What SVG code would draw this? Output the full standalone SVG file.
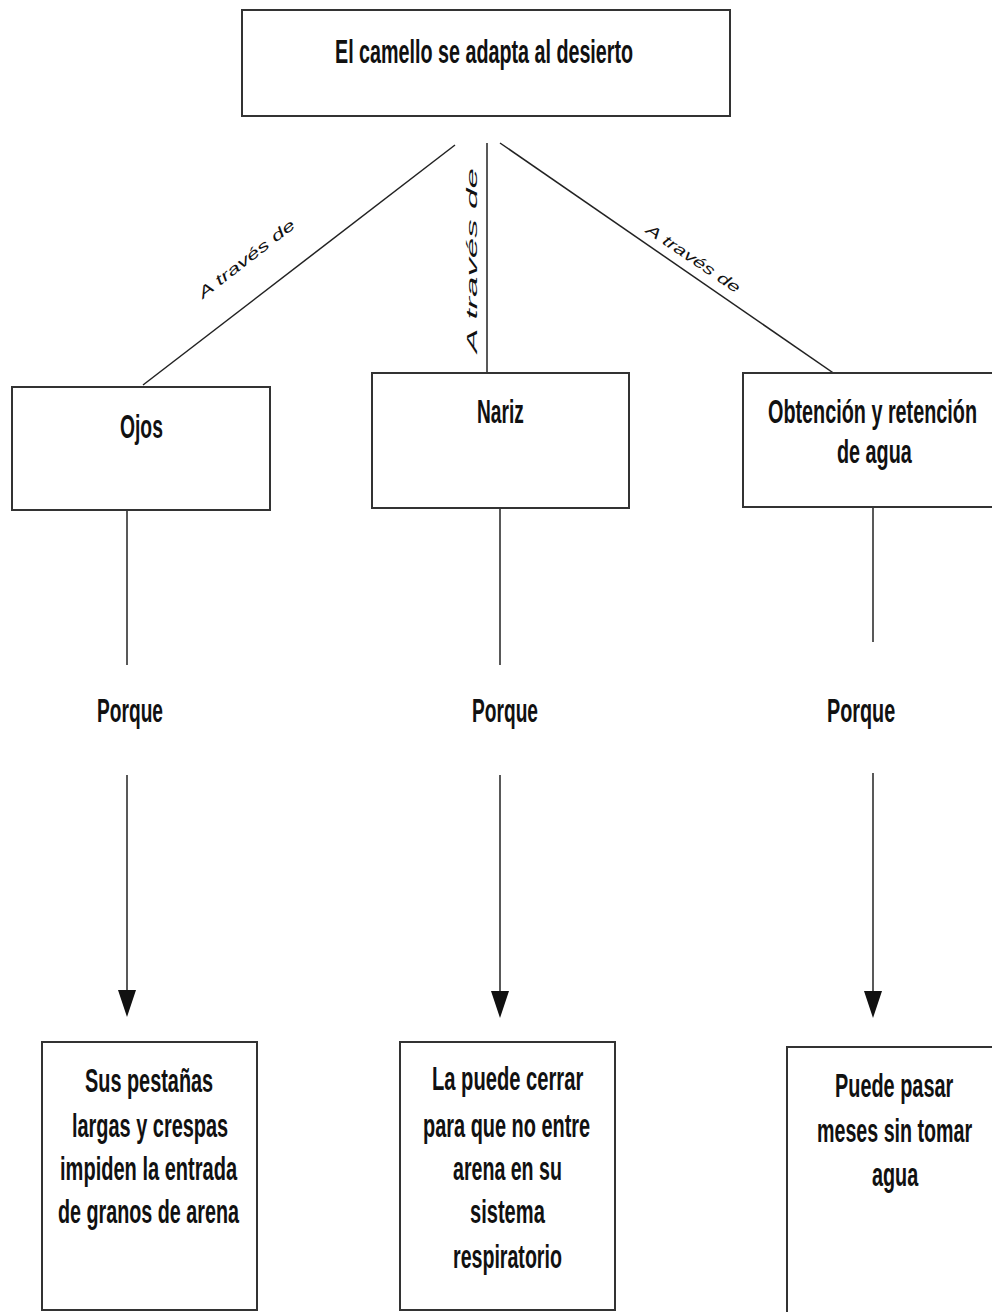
<svg xmlns="http://www.w3.org/2000/svg" width="992" height="1312" viewBox="0 0 992 1312">
<style>
.box{fill:#fff;stroke:#333;stroke-width:2}
.ln{stroke:#222;stroke-width:1.5;fill:none}
.t{font-family:"Liberation Sans",Arial,sans-serif;font-weight:bold;font-size:34px;fill:#111}
.lab{font-family:"Liberation Sans",Arial,sans-serif;font-style:italic;font-size:15px;fill:#111}
.ah{fill:#111}
</style>
<rect width="992" height="1312" fill="#fff"/>
<g id="connectors">
<line class="ln" x1="455" y1="145" x2="143" y2="385"/>
<line class="ln" x1="487" y1="143" x2="487" y2="383"/>
<line class="ln" x1="500" y1="143" x2="858" y2="390"/>
<text class="lab" transform="translate(203,299) rotate(-37.8)" x="0" y="0" textLength="118" lengthAdjust="spacingAndGlyphs">A través de</text>
<text class="lab" transform="translate(477,353) rotate(-90)" x="0" y="0" textLength="185" lengthAdjust="spacingAndGlyphs">A través de</text>
<text class="lab" transform="translate(645,232) rotate(34)" x="0" y="0" textLength="110" lengthAdjust="spacingAndGlyphs">A través de</text>
<line class="ln" x1="127" y1="510" x2="127" y2="665"/>
<line class="ln" x1="500" y1="508" x2="500" y2="665"/>
<line class="ln" x1="873" y1="507" x2="873" y2="642"/>
<line class="ln" x1="127" y1="775" x2="127" y2="995"/>
<line class="ln" x1="500" y1="775" x2="500" y2="995"/>
<line class="ln" x1="873" y1="773" x2="873" y2="995"/>
<polygon class="ah" points="118,990 136,990 127,1017"/>
<polygon class="ah" points="491,991 509,991 500,1018"/>
<polygon class="ah" points="864,991 882,991 873,1018"/>
<text class="t" transform="translate(97,722) scale(0.55,1)" textLength="120" lengthAdjust="spacingAndGlyphs">Porque</text>
<text class="t" transform="translate(472,722) scale(0.55,1)" textLength="120" lengthAdjust="spacingAndGlyphs">Porque</text>
<text class="t" transform="translate(827,722) scale(0.55,1)" textLength="124" lengthAdjust="spacingAndGlyphs">Porque</text>
</g>
<g id="root">
<rect class="box" x="242" y="10" width="488" height="106"/>
<text class="t" transform="translate(335,63) scale(0.55,1)" textLength="542" lengthAdjust="spacingAndGlyphs">El camello se adapta al desierto</text>
</g>
<g id="ojos">
<rect class="box" x="12" y="387" width="258" height="123"/>
<text class="t" transform="translate(120,438) scale(0.55,1)" textLength="78" lengthAdjust="spacingAndGlyphs">Ojos</text>
</g>
<g id="nariz">
<rect class="box" x="372" y="373" width="257" height="135"/>
<text class="t" transform="translate(477,423) scale(0.55,1)" textLength="85" lengthAdjust="spacingAndGlyphs">Nariz</text>
</g>
<g id="agua">
<rect class="box" x="743" y="373" width="260" height="134"/>
<text class="t" transform="translate(768,423) scale(0.55,1)" textLength="380" lengthAdjust="spacingAndGlyphs">Obtención y retención</text>
<text class="t" transform="translate(837,463) scale(0.55,1)" textLength="136" lengthAdjust="spacingAndGlyphs">de agua</text>
</g>
<g id="pestanas">
<rect class="box" x="42" y="1042" width="215" height="268"/>
<text class="t" transform="translate(85,1092) scale(0.55,1)" textLength="233" lengthAdjust="spacingAndGlyphs">Sus pestañas</text>
<text class="t" transform="translate(72,1137) scale(0.55,1)" textLength="284" lengthAdjust="spacingAndGlyphs">largas y crespas</text>
<text class="t" transform="translate(60,1180) scale(0.55,1)" textLength="322" lengthAdjust="spacingAndGlyphs">impiden la entrada</text>
<text class="t" transform="translate(58,1223) scale(0.55,1)" textLength="329" lengthAdjust="spacingAndGlyphs">de granos de arena</text>
</g>
<g id="cerrar">
<rect class="box" x="400" y="1042" width="215" height="268"/>
<text class="t" transform="translate(432,1090) scale(0.55,1)" textLength="275" lengthAdjust="spacingAndGlyphs">La puede cerrar</text>
<text class="t" transform="translate(423,1137) scale(0.55,1)" textLength="304" lengthAdjust="spacingAndGlyphs">para que no entre</text>
<text class="t" transform="translate(453,1180) scale(0.55,1)" textLength="198" lengthAdjust="spacingAndGlyphs">arena en su</text>
<text class="t" transform="translate(470,1223) scale(0.55,1)" textLength="136" lengthAdjust="spacingAndGlyphs">sistema</text>
<text class="t" transform="translate(453,1268) scale(0.55,1)" textLength="198" lengthAdjust="spacingAndGlyphs">respiratorio</text>
</g>
<g id="meses">
<rect class="box" x="787" y="1047" width="215" height="280"/>
<text class="t" transform="translate(835,1097) scale(0.55,1)" textLength="215" lengthAdjust="spacingAndGlyphs">Puede pasar</text>
<text class="t" transform="translate(817,1142) scale(0.55,1)" textLength="282" lengthAdjust="spacingAndGlyphs">meses sin tomar</text>
<text class="t" transform="translate(872,1186) scale(0.55,1)" textLength="84" lengthAdjust="spacingAndGlyphs">agua</text>
</g>
</svg>
